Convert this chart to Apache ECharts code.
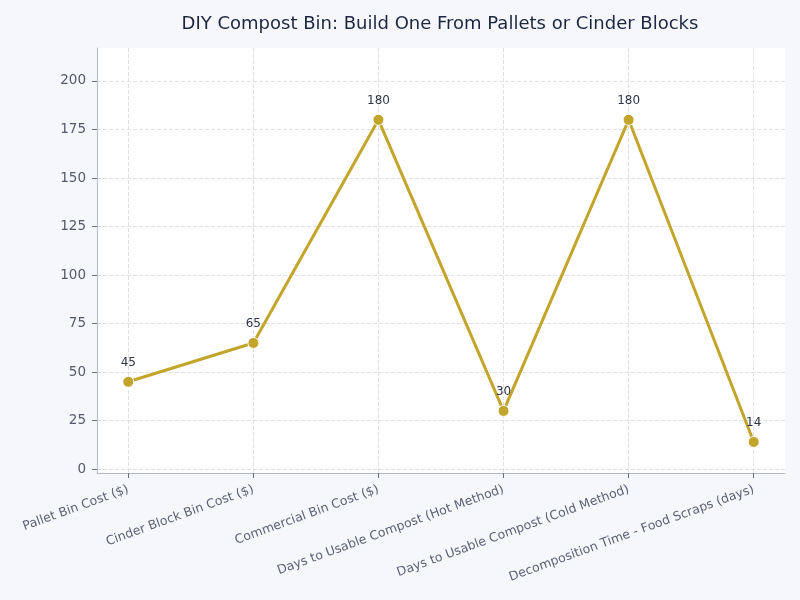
<!DOCTYPE html>
<html>
<head>
<meta charset="utf-8">
<script src="https://cdn.jsdelivr.net/npm/echarts@6/dist/echarts.min.js"></script>
<style>
  html, body { margin: 0; padding: 0; background: #f5f7fb; }
  #main { width: 800px; height: 600px; }
</style>
</head>
<body>
<div id="main"></div>
<script>
var categories = [
  'Pallet Bin Cost ($)',
  'Cinder Block Bin Cost ($)',
  'Commercial Bin Cost ($)',
  'Days to Usable Compost (Hot Method)',
  'Days to Usable Compost (Cold Method)',
  'Decomposition Time - Food Scraps (days)'
];
var values = [45, 65, 180, 30, 180, 14];
var yTicks = [0, 25, 50, 75, 100, 125, 150, 175, 200];
var xTicks = [0, 1, 2, 3, 4, 5];

var chartDom = document.getElementById('main');
var myChart = echarts.init(chartDom);
var option = {
  backgroundColor: '#f5f7fb',
  title: {
    text: 'DIY Compost Bin: Build One From Pallets or Cinder Blocks',
    left: 435,
    top: 10,
    textAlign: 'center',
    textStyle: { fontFamily: 'DejaVu Sans', fontSize: 18, fontWeight: 'normal', color: '#1c2640' }
  },
  grid: {
    left: 97,
    right: 15,
    top: 48,
    bottom: 127,
    show: true,
    backgroundColor: '#ffffff',
    borderWidth: 0
  },
  xAxis: {
    type: 'value',
    min: -0.25,
    max: 5.25,
    axisLine: { show: true, onZero: false, lineStyle: { color: '#b4b8c8' } },
    axisTick: { show: true, customValues: xTicks, length: 5, lineStyle: { color: '#6b7080' } },
    axisLabel: {
      customValues: xTicks,
      rotate: 20,
      margin: 16,
      fontFamily: 'DejaVu Sans',
      fontSize: 12.5,
      color: '#5c6275',
      formatter: function (v) { return categories[Math.round(v)]; }
    },
    splitLine: { show: true, lineStyle: { color: '#e0e0e0', type: 'dashed' } }
  },
  yAxis: {
    type: 'value',
    min: -2,
    max: 217,
    axisLine: { show: true, onZero: false, lineStyle: { color: '#b4b8c8' } },
    axisTick: { show: true, customValues: yTicks, length: 5, lineStyle: { color: '#6b7080' } },
    axisLabel: {
      customValues: yTicks,
      margin: 11,
      fontFamily: 'DejaVu Sans',
      fontSize: 13.5,
      color: '#555a6b'
    },
    splitLine: { show: true, lineStyle: { color: '#e0e0e0', type: 'dashed' } }
  },
  series: [
    {
      type: 'line',
      data: values.map(function (v, i) { return [i, v]; }),
      symbol: 'circle',
      symbolSize: 11,
      lineStyle: { color: '#c2a52a', width: 3 },
      itemStyle: { color: '#c2a52a', borderColor: '#ffffff', borderWidth: 1 },
      label: {
        show: true,
        position: 'top',
        distance: 7,
        fontFamily: 'DejaVu Sans',
        fontSize: 12,
        color: '#2e3445'
      }
    }
  ]
};
option && myChart.setOption(option);
</script>
</body>
</html>
